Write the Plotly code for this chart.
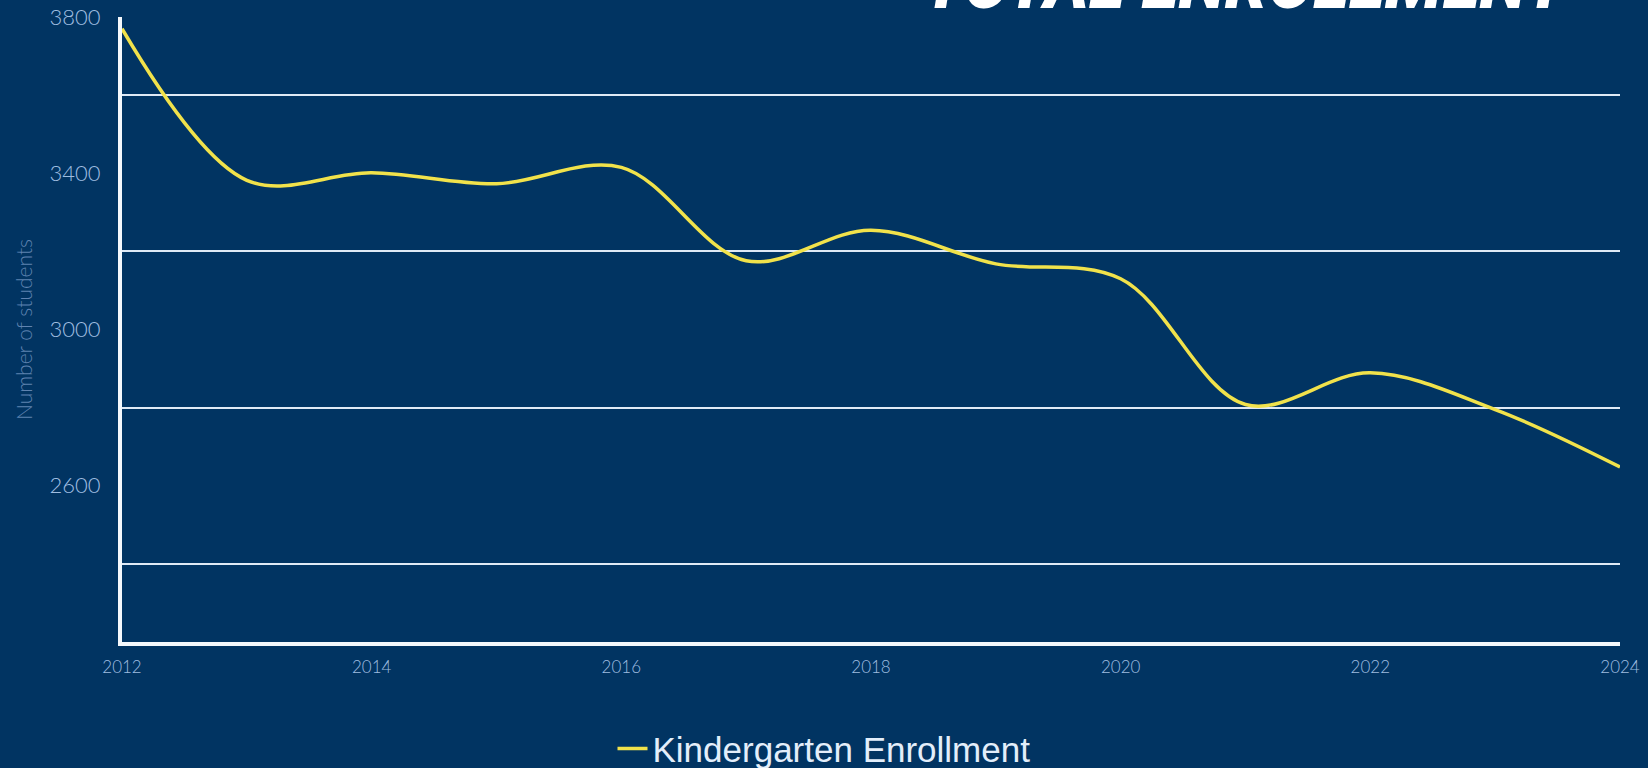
import plotly.graph_objects as go

years = [2012, 2013, 2014, 2015, 2016, 2017, 2018, 2019, 2020, 2021, 2022, 2023, 2024]
enrollment = [3770, 3382, 3401, 3373, 3415, 3176, 3254, 3168, 3130, 2808, 2889, 2795, 2648]
series_name = "Kindergarten Enrollment"
y_label_ticks = [2600, 3000, 3400, 3800]
y_grid_ticks = [2400, 2800, 3200, 3600]
x_ticks = [2012, 2014, 2016, 2018, 2020, 2022, 2024]
title_text = "TOTAL ENROLLMENT"

BG = "#013462"
TICK_COLOR = "#9fbde0"

fig = go.Figure()
fig.add_trace(go.Scatter(
    x=years, y=enrollment, mode="lines", name=series_name,
    line=dict(color="#f1e24b", width=3.5, shape="spline", smoothing=1.0),
    showlegend=True,
))

fig.update_layout(
    width=1648, height=768,
    paper_bgcolor=BG, plot_bgcolor=BG,
    margin=dict(l=122, r=28, t=17, b=126, autoexpand=False),
    showlegend=True,
    legend=dict(
        orientation="h", xref="container", x=0.5, xanchor="center",
        yref="container", y=0.025, yanchor="middle", itemwidth=30,
        font=dict(family="Liberation Sans", size=35, color="#e3eefa"),
        bgcolor="rgba(0,0,0,0)",
    ),
    xaxis=dict(
        range=[2012, 2024], tickvals=x_ticks, showgrid=False, zeroline=False,
        showline=True, linecolor="#f4f8fc", linewidth=4, automargin=False,
        tickfont=dict(family="Lato", size=17, color=TICK_COLOR, weight=300),
        ticks="", ticklabelstandoff=7,
    ),
    yaxis=dict(
        range=[2200, 3800], tickvals=y_label_ticks, showgrid=False, zeroline=False,
        showline=True, linecolor="#f4f8fc", linewidth=4, automargin=False,
        tickfont=dict(family="Lato", size=22, color=TICK_COLOR, weight=300),
        ticks="", ticklabelstandoff=13,
        title=dict(text="Number of students", standoff=12,
                   font=dict(family="Lato", size=21, color="#5f83b0", weight=300)),
        minor=dict(tickmode="array", tickvals=y_grid_ticks, showgrid=True,
                   gridcolor="#dfe9f5", gridwidth=2, ticks=""),
    ),
)

fig.add_annotation(
    text=title_text, xref="paper", yref="paper", x=0.9687, y=1,
    xanchor="right", yanchor="bottom", yshift=-10, showarrow=False,
    font=dict(family="Roboto", size=68, color="#ffffff", weight=900, style="italic"),
)

fig.write_html("out.html", config={"displayModeBar": False},
               post_script="document.body.style.margin='0';")
